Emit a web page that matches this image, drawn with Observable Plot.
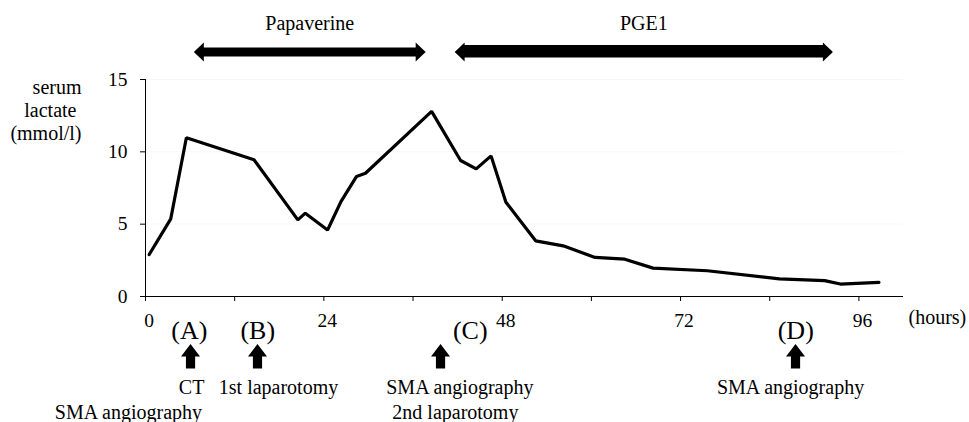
<!DOCTYPE html>
<html>
<head>
<meta charset="utf-8">
<script src="https://cdn.jsdelivr.net/npm/d3@7"></script>
<script src="https://cdn.jsdelivr.net/npm/@observablehq/plot@0.6"></script>
<style>
  html, body { margin: 0; padding: 0; background: #fff; }
  svg text { font-family: "Liberation Serif", "Times New Roman", serif !important; }
</style>
</head>
<body>
<div id="chart"></div>
<script>
// ---- data ----
const hours   = [0.5, 3.4, 5.5, 14.6, 20.5, 21.5, 24.5, 26.3, 28.4, 29.6, 38.5, 42.4, 44.5, 46.5, 48.5, 52.5, 56.2, 60.5, 64.5, 68.3, 75.6, 85.3, 91.4, 93.5, 98.7];
const lactate = [2.9, 5.37, 10.97, 9.45, 5.3, 5.76, 4.6, 6.56, 8.3, 8.52, 12.8, 9.4, 8.82, 9.72, 6.52, 3.85, 3.5, 2.7, 2.58, 1.96, 1.78, 1.22, 1.1, 0.86, 0.97];

const yTicks = [0, 5, 10, 15];
const xTicks = [0, 12, 24, 36, 48, 60, 72, 84, 96];
const xTickLabels = [0, 24, 48, 72, 96];
const xUnit = "(hours)";
const yLabelLines = ["serum", "lactate", "(mmol/l)"];

const regimenNames = ["Papaverine", "PGE1"];
const regimenStart = [6.5, 41.6];
const regimenEnd   = [37.7, 92.5];

const eventLetters = ["(A)", "(B)", "(C)", "(D)"];
const eventArrowHours = [6.06, 15.07, 39.7, 87.47];
const eventLetterHours = [5.9, 15.1, 43.7, 87.5];
const eventLine1 = ["CT", "1st laparotomy", "SMA angiography", "SMA angiography"];
const eventLine1Hours = [6.2, 17.9, 42.3, 86.8];
const eventLine2 = ["SMA angiography", "2nd laparotomy"];
const eventLine2Hours = [-2.3, 41.7];

// ---- tables built from arrays ----
const series = hours.map((h, i) => ({h, v: lactate[i]}));
const regimens = regimenNames.map((name, i) => ({name, start: regimenStart[i], end: regimenEnd[i], mid: (regimenStart[i] + regimenEnd[i]) / 2}));
const events = eventLetters.map((l, i) => ({l, arrow: eventArrowHours[i], at: eventLetterHours[i], line1: eventLine1[i], h1: eventLine1Hours[i]}));
const events2 = eventLine2.map((t, i) => ({t, h: eventLine2Hours[i]}));

// ---- custom arrow symbols ----
const headLeft = (len, half) => ({draw(ctx) { ctx.moveTo(0, 0); ctx.lineTo(len, -half); ctx.lineTo(len, half); ctx.closePath(); }});
const headRight = (len, half) => ({draw(ctx) { ctx.moveTo(0, 0); ctx.lineTo(-len, -half); ctx.lineTo(-len, half); ctx.closePath(); }});
const upArrow = {draw(ctx) {
  ctx.moveTo(0, 0); ctx.lineTo(9.5, 12.5); ctx.lineTo(4.6, 12.5); ctx.lineTo(4.6, 24.5);
  ctx.lineTo(-4.6, 24.5); ctx.lineTo(-4.6, 12.5); ctx.lineTo(-9.5, 12.5); ctx.closePath();
}};

const FF = "Liberation Serif";
const TOP = 15; // y value at the top of the frame
const arrowDy = -27.5;

const chart = Plot.plot({
  width: 969,
  height: 422,
  marginLeft: 145,
  marginRight: 66,
  marginTop: 79,
  marginBottom: 126,
  style: {fontFamily: FF, fontSize: "20px", color: "#000", background: "#fff", overflow: "visible"},
  x: {domain: [0, 102]},
  y: {domain: [0, 15]},
  marks: [
    Plot.gridY(yTicks.slice(1), {stroke: "#000", strokeOpacity: 0.035}),
    Plot.axisY(yTicks, {tickSize: 5, tickPadding: 13, fontSize: 19.5, fontFamily: FF, label: null}),
    Plot.axisX(xTicks, {tickSize: 5, tickFormat: () => "", label: null}),
    Plot.axisX(xTickLabels, {tickSize: 0, tickPadding: 17, dx: 3.5, fontSize: 19.5, fontFamily: FF, label: null}),
    Plot.ruleX([0], {stroke: "#000", strokeWidth: 1}),
    Plot.ruleY([0], {stroke: "#000", strokeWidth: 1}),
    Plot.line(series, {x: "h", y: "v", stroke: "#000", strokeWidth: 3.2, strokeLinejoin: "miter"}),

    // axis unit labels
    Plot.text([xUnit], {frameAnchor: "bottom-right", textAnchor: "start", dx: 5, dy: 27.6, text: d => d, fontSize: 20, fontFamily: FF}),
    ...yLabelLines.map((t, i) => Plot.text([t], {frameAnchor: "top-left", textAnchor: "end", dx: i === 1 ? -69 : -64, dy: -0.1 + i * 23, text: d => d, fontSize: 20, fontFamily: FF})),

    // treatment periods (double arrows)
    Plot.ruleY(regimens.filter(d => d.name === regimenNames[0]), {x1: "start", x2: "end", y: () => TOP, dy: arrowDy, strokeWidth: 9, insetLeft: 8, insetRight: 8, stroke: "#000"}),
    Plot.ruleY(regimens.filter(d => d.name === regimenNames[1]), {x1: "start", x2: "end", y: () => TOP, dy: arrowDy - 0.8, strokeWidth: 12.5, insetLeft: 8, insetRight: 8, stroke: "#000"}),
    Plot.dot(regimens, {x: "start", y: () => TOP, dy: arrowDy, symbol: headLeft(10, 9.5), fill: "#000", stroke: "none"}),
    Plot.dot(regimens, {x: "end", y: () => TOP, dy: arrowDy, symbol: headRight(10, 9.5), fill: "#000", stroke: "none"}),
    Plot.text(regimens, {x: "mid", y: () => TOP, dy: -56.4, text: "name", fontSize: 20, fontFamily: FF}),

    // events below the axis
    Plot.text(events, {x: "at", y: () => 0, dy: 34, text: "l", fontSize: 26, fontFamily: FF}),
    Plot.dot(events, {x: "arrow", y: () => 0, dy: 47.5, symbol: upArrow, fill: "#000", stroke: "none"}),
    Plot.text(events, {x: "h1", y: () => 0, dy: 90.6, text: "line1", fontSize: 20, fontFamily: FF}),
    Plot.text(events2, {x: "h", y: () => 0, dy: 115.6, text: "t", fontSize: 20, fontFamily: FF})
  ]
});

document.getElementById("chart").appendChild(chart);
</script>
</body>
</html>
